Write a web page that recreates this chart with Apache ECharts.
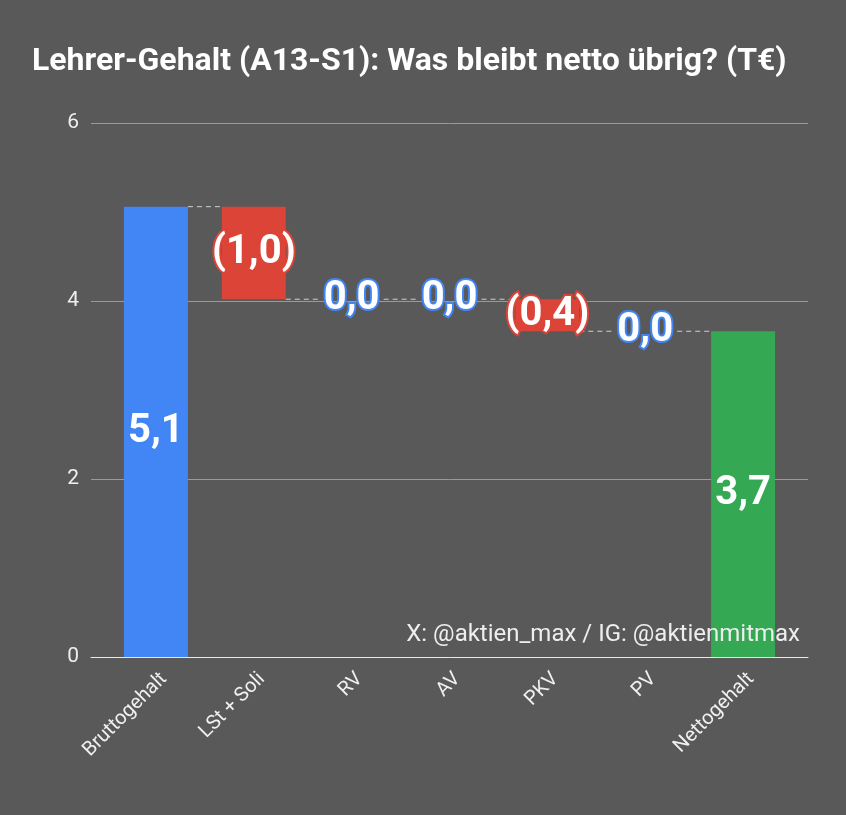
<!DOCTYPE html>
<html>
<head>
<meta charset="utf-8">
<script src="https://cdn.jsdelivr.net/npm/echarts@6/dist/echarts.min.js"></script>
<style>html,body{margin:0;padding:0;background:#595959;}#c{width:846px;height:815px;}</style>
</head>
<body>
<div id="c"></div>
<script>
const categories = ['Bruttogehalt', 'LSt + Soli', 'RV', 'AV', 'PKV', 'PV', 'Nettogehalt'];
const values = [5.06, -1.04, 0, 0, -0.36, 0, 3.66];
const isTotal = [true, false, false, false, false, false, true];
const yTicks = [0, 2, 4, 6];
const titleText = 'Lehrer-Gehalt (A13-S1): Was bleibt netto übrig? (T€)';
const creditText = 'X: @aktien_max / IG: @aktienmitmax';

const BLUE = '#4285F4', RED = '#DB4437', GREEN = '#34A853';

// waterfall computation
let running = 0;
const baseData = [], barData = [], ends = [], labelData = [];
values.forEach((v, i) => {
  let start, end, color;
  if (isTotal[i]) {
    start = 0; end = v; running = v;
    color = i === 0 ? BLUE : GREEN;
  } else {
    start = running; end = running + v; running = end;
    color = v < 0 ? RED : BLUE;
  }
  const lo = Math.min(start, end), hi = Math.max(start, end);
  baseData.push(lo);
  barData.push({ value: hi - lo, itemStyle: { color: color } });
  ends.push(end);
  const txt = (v < 0 ? '(' + Math.abs(v).toFixed(1).replace('.', ',') + ')' : v.toFixed(1).replace('.', ','));
  labelData.push({ value: [i, (lo + hi) / 2], txt: txt, color: color });
});
const connectors = [];
for (let i = 0; i < categories.length - 1; i++) connectors.push([i, ends[i]]);

const BAR_W = 64;
const chart = echarts.init(document.getElementById('c'), null, { renderer: 'canvas' });
chart.setOption({
  backgroundColor: '#595959',
  animation: false,
  textStyle: { fontFamily: 'Roboto' },
  title: {
    text: titleText, left: 27, top: 41,
    textStyle: { color: '#ffffff', fontSize: 32, fontWeight: 'bold', fontFamily: 'Roboto' }
  },
  graphic: [{
    type: 'text', right: 46, top: 623, z: 100,
    style: { text: creditText, fill: '#eeeeee', font: '24px Roboto' }
  }],
  grid: [
    { left: 91, right: 38, top: 123, bottom: 158 },
    { left: 107, right: 54, top: 123, bottom: 158 },
    { left: 115, right: 46, top: 123, bottom: 158 }
  ],
  xAxis: [
    { gridIndex: 0, type: 'value', min: 0, max: 1, axisLabel: { show: false }, axisTick: { show: false }, splitLine: { show: false },
      axisLine: { show: true, lineStyle: { color: '#e8e8e8', width: 1 } } },
    { gridIndex: 1, type: 'category', data: categories, axisLine: { show: false }, axisTick: { show: false },
      axisLabel: { show: false } },
    { gridIndex: 2, type: 'category', data: categories, axisLine: { show: false }, axisTick: { show: false },
      axisLabel: { rotate: 45, color: '#f0f0f0', fontSize: 20, margin: 19, interval: 0, fontFamily: 'Roboto' } }
  ],
  yAxis: [
    { gridIndex: 0, type: 'value', min: yTicks[0], max: yTicks[yTicks.length - 1], interval: 2,
      axisLine: { show: false }, axisTick: { show: false },
      axisLabel: { color: '#eeeeee', fontSize: 21, margin: 12, fontFamily: 'Roboto' },
      splitLine: { lineStyle: { color: '#9a9a9a', width: 1 } } },
    { gridIndex: 1, type: 'value', min: yTicks[0], max: yTicks[yTicks.length - 1], interval: 2, show: false, splitLine: { show: false } },
    { gridIndex: 2, type: 'value', min: yTicks[0], max: yTicks[yTicks.length - 1], interval: 2, show: false, splitLine: { show: false } }
  ],
  series: [
    { type: 'bar', xAxisIndex: 1, yAxisIndex: 1, stack: 'w', data: baseData, barWidth: BAR_W,
      itemStyle: { color: 'transparent' }, silent: true },
    { type: 'bar', xAxisIndex: 1, yAxisIndex: 1, stack: 'w', data: barData, barWidth: BAR_W },
    { type: 'custom', xAxisIndex: 1, yAxisIndex: 1, data: connectors, z: 3,
      renderItem: function (params, api) {
        const p = api.coord([api.value(0), api.value(1)]);
        const band = api.size([1, 0])[0];
        return { type: 'line', shape: { x1: p[0] + BAR_W / 2, y1: p[1], x2: p[0] + band - BAR_W / 2, y2: p[1] },
          style: { stroke: '#d0d0d0', lineWidth: 1, lineDash: [5, 4] } };
      } },
    { type: 'custom', xAxisIndex: 1, yAxisIndex: 1, data: labelData, z: 10,
      renderItem: function (params, api) {
        const d = labelData[params.dataIndex];
        const p = api.coord([api.value(0), api.value(1)]);
        return { type: 'text', x: p[0], y: p[1],
          style: { text: d.txt, fill: '#ffffff', stroke: d.color, lineWidth: 4,
            font: 'bold 40px Roboto', align: 'center', verticalAlign: 'middle' } };
      } }
  ]
});
</script>
</body>
</html>
